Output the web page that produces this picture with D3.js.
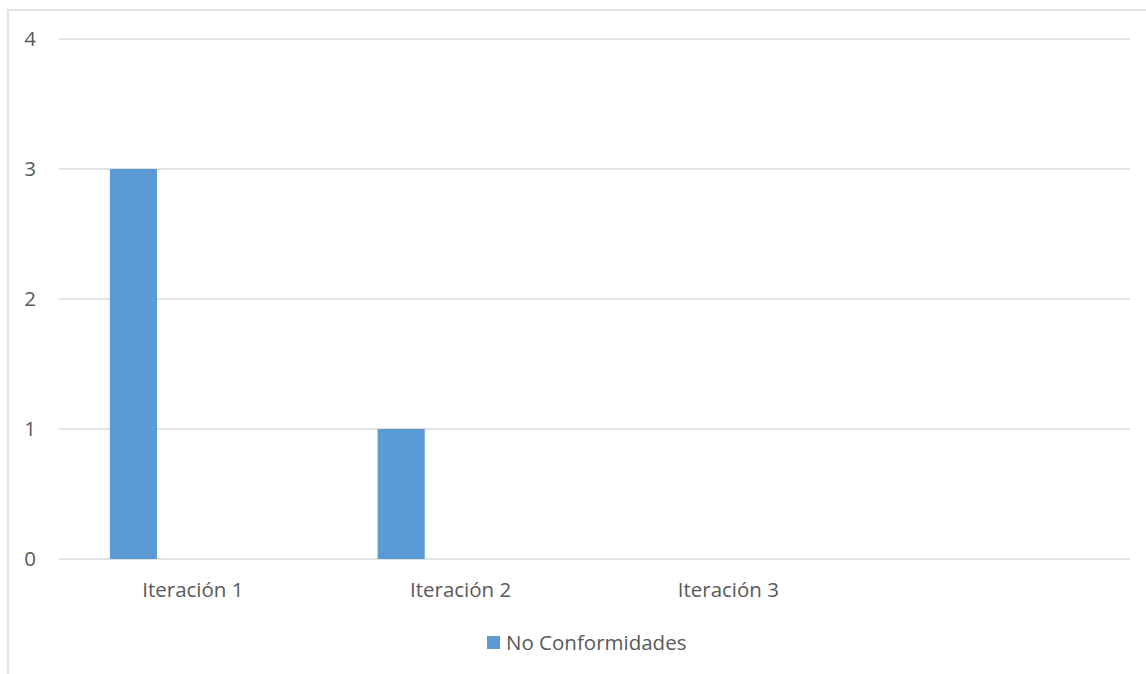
<!DOCTYPE html>
<html><head><meta charset="utf-8">
<script src="https://cdn.jsdelivr.net/npm/d3@7"></script>
<style>body{margin:0;background:#fff;}svg{display:block;font-family:"Open Sans",sans-serif;}</style>
</head><body>
<script>
const categories = ["Iteración 1", "Iteración 2", "Iteración 3", ""];
const seriesName = "No Conformidades";
const values = [3, 1, 0, null];
const yTicks = [0, 1, 2, 3, 4];

(function () {
const W = 1146, H = 674;
const FS = 20.5;
const svg = d3.select("body").append("svg").attr("width", W).attr("height", H);

// chart border (partly cropped)
svg.append("rect").attr("x", 8).attr("y", 10).attr("width", 1160).attr("height", 700)
  .attr("fill", "none").attr("stroke", "#d9d9d9").attr("stroke-width", 1.5);

const mLeft = 59, mRight = 1130, mTop = 39, mBottom = 559;
const x = d3.scaleBand().domain(categories.map((c, i) => i)).range([mLeft, mRight]).padding(0);
const y = d3.scaleLinear().domain([0, 4]).range([mBottom, mTop]);

svg.append("g").selectAll("line").data(yTicks).join("line")
  .attr("x1", mLeft).attr("x2", mRight)
  .attr("y1", d => y(d)).attr("y2", d => y(d))
  .attr("stroke", "#d9d9d9").attr("stroke-width", 1.5);

svg.append("g").selectAll("text").data(yTicks).join("text")
  .attr("x", 30).attr("y", d => y(d)).attr("dy", "0.35em")
  .attr("text-anchor", "middle").attr("fill", "#595959").attr("font-size", FS)
  .text(d => d);

const bw = x.bandwidth();
svg.append("g").selectAll("rect").data(values.map((v, i) => ({v, i})).filter(d => d.v)).join("rect")
  .attr("x", d => x(d.i) + bw * 0.19)
  .attr("width", bw * 0.176)
  .attr("y", d => y(d.v))
  .attr("height", d => y(0) - y(d.v))
  .attr("fill", "#5b9bd5");

svg.append("g").selectAll("text").data(categories.map((c, i) => ({c, i}))).join("text")
  .attr("x", d => x(d.i) + bw / 2).attr("y", 590).attr("dy", "0.35em")
  .attr("text-anchor", "middle").attr("fill", "#595959").attr("font-size", FS)
  .text(d => d.c);

const lg = svg.append("g");
lg.append("rect").attr("x", 487).attr("y", 636).attr("width", 13).attr("height", 13).attr("fill", "#5b9bd5");
lg.append("text").attr("x", 506).attr("y", 643).attr("dy", "0.35em")
  .attr("fill", "#595959").attr("font-size", FS).text(seriesName);
})();
</script>
</body></html>
